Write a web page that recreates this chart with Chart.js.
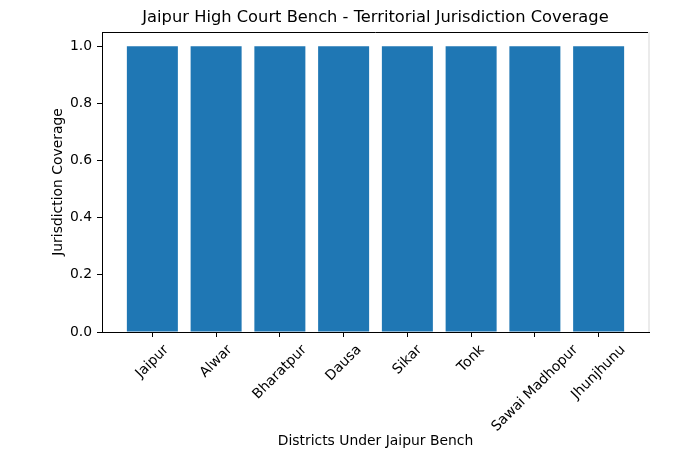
<!DOCTYPE html>
<html>
<head>
<meta charset="utf-8">
<script src="https://cdn.jsdelivr.net/npm/chart.js@4.4.1/dist/chart.umd.min.js"></script>
<style>
  html, body { margin: 0; padding: 0; background: #fff; }
  #wrap { width: 700px; height: 450px; }
</style>
</head>
<body>
<div id="wrap"><canvas id="coverage"></canvas></div>
<script>
// data
const districts = ['Jaipur', 'Alwar', 'Bharatpur', 'Dausa', 'Sikar', 'Tonk', 'Sawai Madhopur', 'Jhunjhunu'];
const coverage = [1, 1, 1, 1, 1, 1, 1, 1];
const yTicks = [0.0, 0.2, 0.4, 0.6, 0.8, 1.0];

const chartTitle = 'Jaipur High Court Bench - Territorial Jurisdiction Coverage';
const font = 'DejaVu Sans';

// title, top/right frame and rotated district labels (matplotlib style, centred on tick)
const extras = {
  id: 'extras',
  afterDraw(chart) {
    const ctx = chart.ctx;
    const area = chart.chartArea;
    const x = chart.scales.x;
    ctx.save();

    ctx.strokeStyle = '#000';
    ctx.lineWidth = 1;
    ctx.beginPath();
    ctx.moveTo(area.left, Math.round(area.top) + 0.5);
    ctx.lineTo(area.right, Math.round(area.top) + 0.5);
    ctx.stroke();
    ctx.strokeStyle = '#ebebeb';
    ctx.lineWidth = 2;
    ctx.beginPath();
    ctx.moveTo(area.right, area.top);
    ctx.lineTo(area.right, area.bottom);
    ctx.stroke();

    ctx.fillStyle = '#000';
    ctx.font = '16.3px "' + font + '"';
    ctx.textAlign = 'center';
    ctx.textBaseline = 'middle';
    ctx.fillText(chartTitle, (area.left + area.right) / 2, 18);

    ctx.font = '13.9px "' + font + '"';
    const y0 = area.bottom + 10;
    const h = 16;
    districts.forEach((name, i) => {
      const w = ctx.measureText(name).width;
      const half = (w + h) / (2 * Math.SQRT2);
      ctx.save();
      ctx.translate(x.getPixelForValue(i), y0 + half);
      ctx.rotate(-Math.PI / 4);
      ctx.fillText(name, 0, 0);
      ctx.restore();
    });
    ctx.restore();
  }
};

new Chart(document.getElementById('coverage'), {
  type: 'bar',
  data: {
    datasets: [{
      data: districts.map((d, i) => ({ x: i, y: coverage[i] })),
      backgroundColor: '#1f77b4',
      borderWidth: 0,
      categoryPercentage: 0.8,
      barPercentage: 1.0
    }]
  },
  options: {
    responsive: true,
    maintainAspectRatio: false,
    animation: false,
    layout: { padding: { top: 32, right: 51, left: 0, bottom: 0 } },
    plugins: { legend: { display: false }, tooltip: { enabled: false } },
    scales: {
      x: {
        type: 'linear',
        offset: false,
        min: -0.79,
        max: 7.79,
        afterBuildTicks: s => { s.ticks = districts.map((d, i) => ({ value: i })); },
        afterFit: s => { s.height = 118; },
        ticks: { display: false },
        grid: { offset: false, drawOnChartArea: false, drawTicks: true, tickLength: 5, color: '#000' },
        border: { display: true, color: '#000', width: 1 },
        title: {
          display: true,
          text: 'Districts Under Jaipur Bench',
          color: '#000',
          font: { family: font, size: 13.9, lineHeight: 1 },
          padding: { top: 0, bottom: 2 }
        }
      },
      y: {
        min: 0,
        max: 1.05,
        afterBuildTicks: s => { s.ticks = yTicks.map(v => ({ value: v })); },
        afterFit: s => { s.width = 102; },
        ticks: {
          color: '#000',
          padding: 5,
          font: { family: font, size: 13.9 },
          callback: v => Number(v).toFixed(1)
        },
        grid: { drawOnChartArea: false, drawTicks: true, tickLength: 5, color: '#000' },
        border: { display: true, color: '#000', width: 1 },
        title: {
          display: true,
          text: 'Jurisdiction Coverage',
          color: '#000',
          font: { family: font, size: 13.9, lineHeight: 1 },
          padding: { top: 51, bottom: 0 }
        }
      }
    }
  },
  plugins: [extras]
});
</script>
</body>
</html>
